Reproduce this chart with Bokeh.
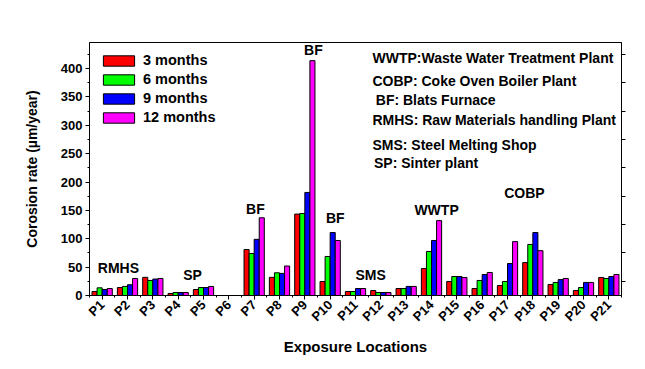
import numpy as np
from bokeh.plotting import figure
from bokeh.models import (ColumnDataSource, FixedTicker, LinearAxis, Label, Legend, LegendItem, Range1d)
from bokeh.transform import dodge
from bokeh.embed import file_html
from bokeh.resources import INLINE

locations = ["P1", "P2", "P3", "P4", "P5", "P6", "P7", "P8", "P9", "P10", "P11",
             "P12", "P13", "P14", "P15", "P16", "P17", "P18", "P19", "P20", "P21"]
m3 = [7, 14, 32, 3.5, 10.6, 0, 81, 32, 143.5, 24.7, 7, 8.8, 12.3, 47.6, 24.7, 12.3, 17.6, 58, 19.4, 8.8, 31.8]
m6 = [13.5, 16, 26.5, 5.3, 14, 0, 74, 40, 144.6, 68.8, 7, 5.3, 12.3, 77.6, 33.5, 26.5, 24.7, 90, 23, 14, 30]
m9 = [10.6, 19, 29, 5.3, 14, 0, 99, 39, 181.7, 111, 12.3, 5.3, 16, 97, 33.5, 37, 56.4, 111, 28, 23, 33.5]
m12 = [12.3, 30, 30, 5.3, 16, 0, 137, 52, 414, 97, 12.3, 5.3, 16, 132, 31.8, 40.6, 95, 79, 30, 23, 37]
series_names = ["3 months", "6 months", "9 months", "12 months"]
series_colors = ["#FF0000", "#00FF00", "#0000FF", "#FF00FF"]

pos = list(range(1, len(locations) + 1))
src = ColumnDataSource(dict(x=pos, m3=m3, m6=m6, m9=m9, m12=m12))

FONT = "Liberation Sans"
BLACK = "black"

p = figure(width=637, height=361, output_backend="svg", toolbar_location=None,
           x_range=Range1d(0.5, 21.5), y_range=Range1d(0, 446),
           min_border_left=89, min_border_right=16, min_border_top=42, min_border_bottom=66)
p.xgrid.visible = False
p.ygrid.visible = False
p.outline_line_color = "black"
p.outline_line_width = 1

offsets = [-0.3, -0.1, 0.1, 0.3]
keys = ["m3", "m6", "m9", "m12"]
renderers = []
for k, off, col in zip(keys, offsets, series_colors):
    r = p.vbar(x=dodge("x", off), top=k, width=0.2, source=src,
               fill_color=col, line_color="black", line_width=1)
    renderers.append(r)

legend = Legend(items=[LegendItem(label=n, renderers=[r]) for n, r in zip(series_names, renderers)],
                location="top_left", margin=0, padding=10, spacing=3,
                glyph_width=39, glyph_height=13, label_standoff=5,
                label_text_font=FONT, label_text_font_style="bold", label_text_font_size="14.5px",
                label_text_color=BLACK,
                border_line_alpha=0, background_fill_alpha=0, label_height=13)
p.add_layout(legend)

# x axis
xa = p.xaxis[0]
xa.ticker = FixedTicker(ticks=pos, minor_ticks=[i + 0.5 for i in range(0, len(pos) + 1)])
xa.major_label_overrides = {i: n for i, n in zip(pos, locations)}
xa.major_label_orientation = np.pi / 4
xa.major_tick_in = 0
xa.major_tick_out = 4
xa.minor_tick_in = 0
xa.minor_tick_out = 2
xa.major_label_text_font = FONT
xa.major_label_text_font_style = "bold"
xa.major_label_text_font_size = "13px"
xa.major_label_text_color = BLACK
xa.major_label_standoff = 3
xa.axis_label = "Exposure Locations"
xa.axis_label_text_font = FONT
xa.axis_label_text_font_style = "bold"
xa.axis_label_text_font_size = "15px"
xa.axis_label_text_color = BLACK
xa.axis_label_standoff = 6
xa.axis_line_color = "black"

# y axis
ya = p.yaxis[0]
ya.ticker = FixedTicker(ticks=list(range(0, 401, 50)), minor_ticks=list(range(0, 446, 25)))
ya.major_tick_in = 0
ya.major_tick_out = 4
ya.minor_tick_in = 0
ya.minor_tick_out = 2
ya.major_label_text_font = FONT
ya.major_label_text_font_style = "bold"
ya.major_label_text_font_size = "13px"
ya.major_label_text_color = BLACK
ya.major_label_standoff = 3
ya.axis_label = "Corosion rate (\u00b5m/year)"
ya.axis_label_text_font = FONT
ya.axis_label_text_font_style = "bold"
ya.axis_label_text_font_size = "14px"
ya.axis_label_text_color = BLACK
ya.axis_label_standoff = 18

# right axis: ticks only, no labels
ra = LinearAxis(ticker=FixedTicker(ticks=[], minor_ticks=list(range(25, 446, 50))),
                major_tick_in=0, major_tick_out=0, minor_tick_in=0, minor_tick_out=4)
p.add_layout(ra, "right")

# site annotations above bars
ann = [("RMHS", 1.64, 49), ("SP", 4.57, 37), ("BF", 7.05, 153), ("BF", 9.34, 432),
       ("BF", 10.2, 136), ("SMS", 11.6, 37), ("WWTP", 14.2, 150), ("COBP", 17.67, 180)]
for t, x, y in ann:
    p.add_layout(Label(x=x, y=y, text=t, text_align="center", text_baseline="middle",
                       text_font=FONT, text_font_style="bold", text_font_size="14px",
                       text_color=BLACK))

# abbreviation key
key_lines = [("WWTP:Waste Water Treatment Plant", 11.67, 419),
             ("COBP: Coke Oven Boiler Plant", 11.67, 379),
             ("BF: Blats Furnace", 11.8, 344),
             ("RMHS: Raw Materials handling Plant", 11.67, 310),
             ("SMS: Steel Melting Shop", 11.67, 266),
             ("SP: Sinter plant", 11.73, 234)]
for t, x, y in key_lines:
    p.add_layout(Label(x=x, y=y, text=t, text_align="left", text_baseline="middle",
                       text_font=FONT, text_font_style="bold", text_font_size="14px",
                       text_color=BLACK))

open("out.html", "w").write(file_html(p, INLINE))
